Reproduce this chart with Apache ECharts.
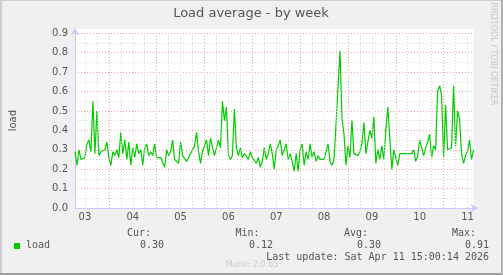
<!DOCTYPE html>
<html>
<head>
<meta charset="utf-8">
<script src="https://cdn.jsdelivr.net/npm/echarts@6/dist/echarts.min.js"></script>
<style>
html,body{margin:0;padding:0;background:#f0f0f0;}
#chart{width:503px;height:275px;}
</style>
</head>
<body>
<div id="chart"></div>
<script>
// Hours counted from Sat Apr 3 2026 00:00; first sample at 07:00, one per hour
var startHour = 7;
var endHour = 207;
var dayLabels = ['03','04','05','06','07','08','09','10','11'];
var loadValues = [
0.29,0.22,0.30,0.25,0.26,0.26,0.33,0.35,0.29,0.55,0.28,0.50,0.27,0.29,0.28,0.30,0.34,0.26,0.22,0.29,
0.27,0.30,0.26,0.39,0.28,0.35,0.25,0.34,0.22,0.31,0.26,0.33,0.28,0.30,0.22,0.31,0.33,0.27,0.29,0.27,
0.33,0.26,0.27,0.26,0.27,0.21,0.30,0.27,0.29,0.35,0.25,0.26,0.23,0.34,0.27,0.28,0.24,0.23,0.28,0.30,
0.32,0.39,0.29,0.23,0.29,0.30,0.35,0.27,0.36,0.35,0.27,0.26,0.35,0.31,0.55,0.45,0.52,0.27,0.25,0.27,
0.51,0.31,0.27,0.31,0.26,0.28,0.29,0.25,0.29,0.26,0.27,0.23,0.26,0.21,0.24,0.31,0.25,0.28,0.33,0.28,
0.20,0.30,0.32,0.35,0.27,0.27,0.33,0.25,0.28,0.24,0.19,0.28,0.19,0.30,0.33,0.22,0.29,0.25,0.33,0.26,
0.29,0.24,0.27,0.25,0.26,0.25,0.26,0.33,0.24,0.22,0.25,0.43,0.62,0.81,0.46,0.38,0.22,0.32,0.26,0.45,
0.28,0.29,0.27,0.29,0.33,0.44,0.28,0.27,0.40,0.36,0.47,0.23,0.30,0.25,0.32,0.25,0.40,0.52,0.53,0.20,
0.30,0.29,0.22,0.28,0.27,0.28,0.29,0.28,0.29,0.28,0.30,0.24,0.27,0.35,0.36,0.27,0.31,0.34,0.38,0.26,
0.32,0.30,0.60,0.63,0.58,0.26,0.53,0.30,0.29,0.31,0.63,0.32,0.50,0.46,0.28,0.23,0.27,0.29,0.35,0.25,
0.30
];
var legendHeads = ['Cur:','Min:','Avg:','Max:'];
var legendValues = ['0.30','0.12','0.30','0.91'];
var seriesName = 'load';
var titleText = 'Load average - by week';
var lastUpdate = 'Last update: Sat Apr 11 15:00:14 2026';

var seriesData = loadValues.map(function(v,i){ return [startHour + i, v]; });
var labelHours = dayLabels.map(function(d,k){ return 12 + 24*k; });

var gridMarks = [];
for (var h = Math.ceil(startHour/6)*6; h <= endHour; h += 6) {
  var major = (h % 24 === 0);
  gridMarks.push({xAxis: h, lineStyle: {color: major ? '#f2a3a3' : '#d6d6d6', type: [1,2], width: 1}});
}

var chart = echarts.init(document.getElementById('chart'), null, {renderer:'canvas'});
var font = 'DejaVu Sans';
var mono = 'DejaVu Sans Mono';
var txtColor = '#555555';
var axisColor = '#c8c8fa';

var graphics = [
  {type:'rect', z:-10, shape:{x:73, y:29, width:401, height:5}, style:{fill:'#ffffff'}},
  {type:'rect', shape:{x:0, y:0, width:503, height:1}, style:{fill:'#cfcfcf'}},
  {type:'rect', shape:{x:0, y:0, width:2, height:275}, style:{fill:'#cfcfcf'}},
  {type:'rect', shape:{x:0, y:273, width:503, height:2}, style:{fill:'#9e9e9e'}},
  {type:'rect', shape:{x:501, y:0, width:2, height:275}, style:{fill:'#b0b0b0'}},
  {type:'text', x:251, y:14, style:{text:titleText, font:'13px ' + font, fill:txtColor, textAlign:'center', textVerticalAlign:'middle'}},
  {type:'text', x:493, y:54, rotation:-Math.PI/2, style:{text:'RRDTOOL / TOBI OETIKER', font:'8px ' + font, fill:'#c4c4c4', textAlign:'center', textVerticalAlign:'middle'}},
  {type:'rect', shape:{x:14, y:243, width:6, height:6}, style:{fill:'#00cc00'}},
  {type:'text', x:26, y:245.5, style:{text:seriesName, font:'10px ' + mono, fill:txtColor, textAlign:'left', textVerticalAlign:'middle'}},
  {type:'text', x:489, y:257.5, style:{text:lastUpdate, font:'10px ' + mono, fill:txtColor, textAlign:'right', textVerticalAlign:'middle'}},
  {type:'text', x:252, y:264.5, z:-1, style:{text:'Munin 2.0.63', font:'8px ' + font, fill:'#cccccc', textAlign:'center', textVerticalAlign:'middle'}}
];
var headX = [151, 259.5, 368, 476];
var valX = [164, 273, 381, 489];
legendHeads.forEach(function(t,i){
  graphics.push({type:'text', x:headX[i], y:233.5, style:{text:t, font:'10px ' + mono, fill:txtColor, textAlign:'right', textVerticalAlign:'middle'}});
});
legendValues.forEach(function(t,i){
  graphics.push({type:'text', x:valX[i], y:245.5, style:{text:t, font:'10px ' + mono, fill:txtColor, textAlign:'right', textVerticalAlign:'middle'}});
});

chart.setOption({
  animation: false,
  backgroundColor: '#f0f0f0',
  grid: {left:72, right:29.5, top:33.3, bottom:67, show:true, backgroundColor:'#ffffff', borderWidth:0},
  xAxis: {
    type:'value', min:startHour, max:endHour,
    axisLine:{show:true, lineStyle:{color:axisColor, width:1}, symbol:['none','arrow'], symbolSize:[6,8], symbolOffset:[0,5]},
    axisTick:{show:false},
    splitLine:{show:false},
    axisLabel:{customValues: labelHours, formatter:function(v){ return dayLabels[Math.round((v-12)/24)]; }, color:txtColor, fontSize:10, fontFamily:font, margin:4}
  },
  yAxis: {
    type:'value', min:0, max:0.9, interval:0.1,
    name: seriesName, nameLocation:'middle', nameRotate:90, nameGap:57,
    nameTextStyle:{color:txtColor, fontSize:10, fontFamily:font},
    axisLine:{show:true, lineStyle:{color:axisColor, width:1}, symbol:['none','arrow'], symbolSize:[6,8], symbolOffset:[0,6]},
    axisTick:{show:false},
    axisLabel:{formatter:function(v){ return v.toFixed(1); }, color:txtColor, fontSize:10, fontFamily:font, margin:7},
    splitLine:{show:true, lineStyle:{color:'#f2a3a3', type:[1,2], width:1}},
    minorTick:{show:false, splitNumber:2},
    minorSplitLine:{show:true, lineStyle:{color:'#d6d6d6', type:[1,2], width:1}}
  },
  series: [
    {type:'line', name:'grid', data:[], z:1, silent:true,
     markLine:{silent:true, symbol:['none','none'], label:{show:false}, animation:false, data:gridMarks}},
    {type:'line', name:seriesName, data:seriesData, z:3, showSymbol:false, symbol:'none',
     lineStyle:{color:'#00cc00', width:1.2}, silent:true}
  ],
  graphic: graphics
});
</script>
</body>
</html>
